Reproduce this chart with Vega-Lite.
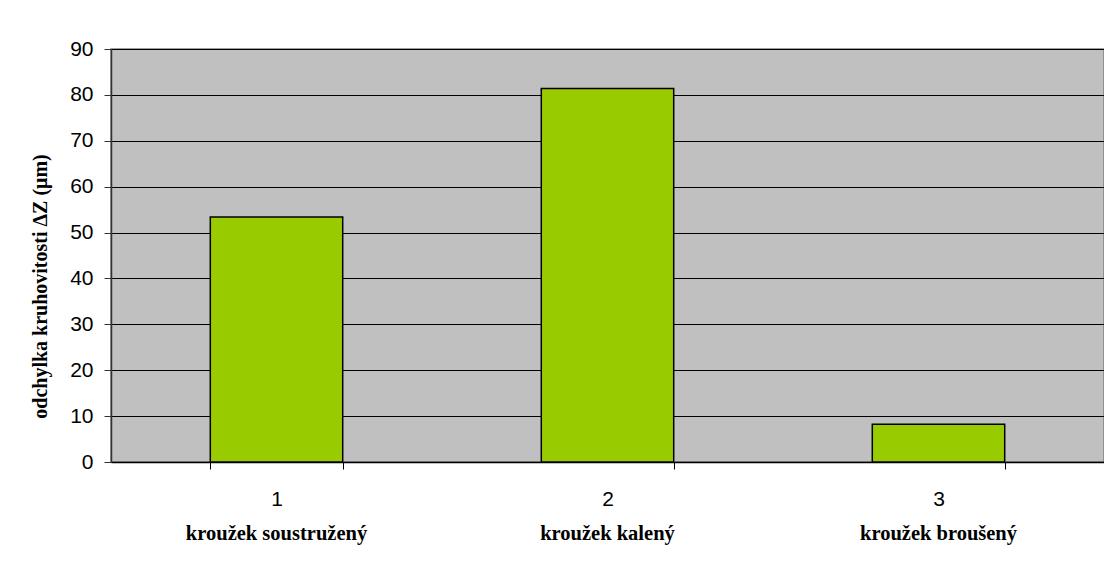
{
  "$schema": "https://vega.github.io/schema/vega-lite/v6.json",
  "autosize": {"type": "none"},
  "padding": {"left": 111, "top": 49, "right": 0, "bottom": 101},
  "width": 993,
  "height": 413,
  "background": "white",
  "config": {
    "view": {"fill": "#C0C0C0", "stroke": "#808080", "strokeWidth": 1.5},
    "axis": {"labelColor": "black", "titleColor": "black", "labelLimit": 400}
  },
  "data": {
    "values": [
      {"cislo": "1", "krouzek": "kroužek soustružený", "odchylka": 53.4},
      {"cislo": "2", "krouzek": "kroužek kalený", "odchylka": 81.4},
      {"cislo": "3", "krouzek": "kroužek broušený", "odchylka": 8.2}
    ]
  },
  "layer": [
    {
      "mark": {"type": "bar", "fillOpacity": 0, "strokeOpacity": 0},
      "encoding": {
        "x": {
          "field": "krouzek", "type": "nominal", "sort": null,
          "scale": {"paddingInner": 0.6, "paddingOuter": 0.3},
          "axis": {
            "orient": "bottom", "title": null, "domain": false, "ticks": false, "grid": false,
            "labelAngle": 0, "labelPadding": 61, "labelLimit": 400,
            "labelFont": "Liberation Serif", "labelFontWeight": "bold", "labelFontSize": 20.5
          }
        },
        "y": {
          "field": "odchylka", "type": "quantitative",
          "scale": {"domain": [0, 90], "nice": false},
          "axis": {
            "values": [0, 10, 20, 30, 40, 50, 60, 70, 80, 90],
            "title": "odchylka kruhovitosti ΔZ (μm)",
            "titleFont": "Liberation Serif", "titleFontWeight": "bold", "titleFontSize": 20,
            "titleAngle": -90, "titleAlign": "center", "titleBaseline": "middle",
            "titleX": -71, "titleY": 237,
            "labelFont": "Liberation Sans", "labelFontSize": 21, "labelPadding": 11,
            "tickSize": 7, "tickColor": "#333333", "domainColor": "#333333", "domainWidth": 1.5,
            "grid": true, "gridColor": "black", "gridWidth": 1
          }
        }
      }
    },
    {
      "mark": {"type": "bar", "fill": "#99CC00", "stroke": "black", "strokeWidth": 1.5},
      "encoding": {
        "x": {
          "field": "cislo", "type": "nominal", "sort": null,
          "scale": {"paddingInner": 0.6, "paddingOuter": 0.3},
          "axis": {
            "orient": "bottom", "title": null, "grid": false,
            "labelAngle": 0, "labelPadding": 19, "tickBand": "extent",
            "tickSize": 7, "tickColor": "black", "domainColor": "black", "domainWidth": 1.5,
            "labelFont": "Liberation Sans", "labelFontSize": 21
          }
        },
        "y": {"field": "odchylka", "type": "quantitative"}
      }
    }
  ],
  "resolve": {"scale": {"x": "independent"}, "axis": {"x": "independent"}}
}
